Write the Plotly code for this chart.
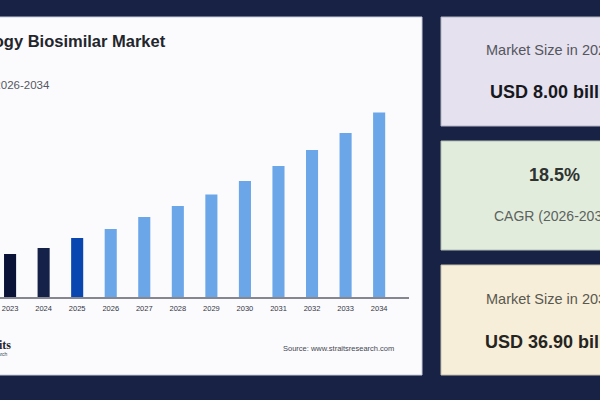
import plotly.graph_objects as go

years = ["2023", "2024", "2025", "2026", "2027", "2028", "2029", "2030", "2031", "2032", "2033", "2034"]
market_size = [8.6, 9.8, 11.8, 13.6, 16.0, 18.2, 20.5, 23.2, 26.2, 29.4, 32.8, 36.9]
bar_colors = ["#0b1238", "#16214a", "#0a46b0"] + ["#6aa6e8"] * 9

title = "Oncology Biosimilar Market"
subtitle = "Forecast Period 2026-2034"
source = "Source: www.straitsresearch.com"

NAVY = "#172244"
W, H = 600, 400


def px(x):
    return x / W


def py(y):
    return 1 - y / H


def card(x0, y0, x1, y1, fill, line):
    return dict(type="rect", xref="paper", yref="paper", layer="below",
                x0=px(x0), x1=px(x1), y0=py(y1), y1=py(y0),
                fillcolor=fill, line=dict(color=line, width=1))


def label(text, x, y, size, color, anchor="center", bold=False, family="Liberation Sans"):
    return dict(text=f"<b>{text}</b>" if bold else text, xref="paper", yref="paper",
                x=px(x), y=py(y), xanchor=anchor, yanchor="middle", showarrow=False,
                font=dict(size=size, color=color, family=family))


fig = go.Figure(go.Bar(x=years, y=market_size, marker=dict(color=bar_colors, line_width=0), width=0.36))

fig.update_layout(
    width=W, height=H, autosize=False,
    margin=dict(l=0, r=0, t=0, b=0),
    paper_bgcolor=NAVY, plot_bgcolor="rgba(0,0,0,0)",
    showlegend=False,
    xaxis=dict(domain=[0, px(409)], type="category", range=[-0.3, 11.89],
               showline=True, linecolor="#85868f", linewidth=1.5,
               showgrid=False, ticks="", ticklen=0, ticklabelstandoff=3,
               tickfont=dict(size=7.5, color="#33363f", family="Liberation Sans"),
               tickangle=0),
    yaxis=dict(domain=[py(297), py(97)], range=[0, 40], visible=False),
    shapes=[
        card(-10, 17, 422, 375, "#fbfbfe", "#c9ccd8"),
        card(441, 17, 680, 126, "#e5e1ee", "#b5b3c2"),
        card(441, 141, 680, 250, "#e2ecdd", "#b3bdb2"),
        card(441, 265, 680, 375, "#f6eed8", "#c6bfae"),
    ],
    annotations=[
        label(title, 168, 41, 16.5, "#23252c", "right", True),
        label(subtitle, 52, 85, 11.5, "#55585f", "right"),
        label(source, 396, 348, 7.5, "#44474f", "right"),
        label("Straits", 13, 345, 12, "#23252c", "right", True, "Liberation Serif"),
        label("Research", 10, 354, 5, "#44474f", "right"),
        label("Market Size in 2026", 484, 50, 14.5, "#55565e", "left"),
        label("USD 8.00 billion", 488, 92, 18, "#17181e", "left", True),
        label("18.5%", 554, 175, 18, "#2e3330", bold=True),
        label("CAGR (2026-2034)", 492, 216, 14, "#5c625d", "left"),
        label("Market Size in 2034", 484, 299, 14.5, "#5a5850", "left"),
        label("USD 36.90 billion", 483, 342, 18, "#25241f", "left", True),
    ],
)

fig.write_html("out.html", config={"displayModeBar": False},
               post_script="document.documentElement.style.overflow='hidden';document.body.style.margin='0';")
